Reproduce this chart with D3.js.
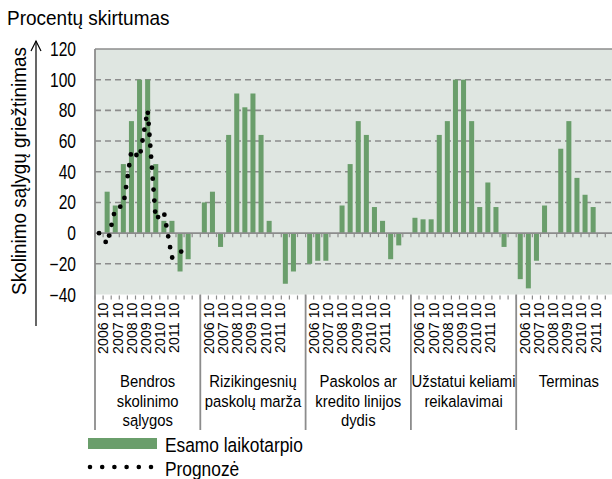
<!DOCTYPE html>
<html>
<head>
<meta charset="utf-8">
<script src="https://cdn.jsdelivr.net/npm/d3@7"></script>
<style>
  body { margin: 0; background: #fff; }
  text { font-family: "Liberation Sans", Arial, sans-serif; fill: #000; }
</style>
</head>
<body>
<script>
const width = 612, height = 479
const margin = {top: 49, left: 95, bottom: 294.5}
const groupWidth = 105.3

// groups on the category axis (line breaks as in the picture)
const groups = [
    ["Bendros", "skolinimo", "sąlygos"],
    ["Rizikingesnių", "paskolų marža"],
    ["Paskolos ar", "kredito linijos", "dydis"],
    ["Užstatui keliami", "reikalavimai"],
    ["Terminas"]
]
// survey periods, plus one empty slot between groups
const periods = ["2006 04", "2006 10", "2007 04", "2007 10", "2008 04", "2008 10",
    "2009 04", "2009 10", "2010 04", "2010 10", "2011 04", "2011 10", "gap"]
const yearLabels = ["2006 10", "2007 10", "2008 10", "2009 10", "2010 10", "2011 10"]

// Esamo laikotarpio (bars), one array per group
const bendros   = [0, 27, 18, 45, 73, 100, 100, 45, 8, 8, -25, -17]
const rizik     = [20, 27, -9, 64, 91, 82, 91, 64, 8, 0, -33, -25]
const paskolos  = [-20, -18, -18, 0, 18, 45, 73, 64, 17, 8, -17, -8]
const uzstatai  = [10, 9, 9, 64, 73, 100, 100, 73, 17, 33, 17, -9]
const terminas  = [-30, -36, -18, 18, 0, 55, 73, 36, 25, 17, 0, 0]
const barSeries = [bendros, rizik, paskolos, uzstatai, terminas]

// Prognozė (dotted line), only for the first group
const prognoze = [0, -7, 16, 18, 54, 49, 80, 9, 14, -16, -12, -12]

const yTicks = [-40, -20, 0, 20, 40, 60, 80, 100, 120]

const barColor = "#6a9e6b"
const gridColor = "#8c8c8c"

// narrow text: move, optionally rotate, squeeze along the text
const tf = (x, y, sx, rot) => `translate(${x},${y})` + (rot ? ` rotate(${rot})` : "") + ` scale(${sx},1)`

const svg = d3.select("body").append("svg")
    .attr("width", width)
    .attr("height", height)

const groupKeys = groups.map(g => g.join(" "))
const x0 = d3.scaleBand().domain(groupKeys)
    .range([margin.left, margin.left + groupWidth * groups.length])
const x1 = d3.scaleBand().domain(periods).range([0, groupWidth]).paddingInner(0.38).paddingOuter(0.19)
const y = d3.scaleLinear().domain([-40, 120]).range([margin.bottom, margin.top])
const labelX = d3.scalePoint().domain(yearLabels).range([8, 79])

// plot background
svg.append("rect")
    .attr("x", margin.left).attr("y", y(120))
    .attr("width", width - margin.left).attr("height", y(-40) - y(120))
    .attr("fill", "#dfe6e1")

// dashed grid
svg.append("g").selectAll("line")
    .data(yTicks.filter(d => d !== 0 && d !== 120 && d !== -40))
    .join("line")
    .attr("x1", margin.left).attr("x2", width)
    .attr("y1", d => y(d)).attr("y2", d => y(d))
    .attr("stroke", gridColor).attr("stroke-width", 1.6)
    .attr("stroke-dasharray", "6,4")

// top border
svg.append("line")
    .attr("x1", margin.left).attr("x2", width)
    .attr("y1", y(120)).attr("y2", y(120))
    .attr("stroke", gridColor).attr("stroke-width", 1.6)

// bars
const gGroups = svg.append("g").selectAll("g")
    .data(barSeries)
    .join("g")
    .attr("transform", (d, i) => `translate(${x0(groupKeys[i])},0)`)

gGroups.selectAll("rect")
    .data(d => d.map((v, i) => ({v, p: periods[i]})).filter(d => d.v))
    .join("rect")
    .attr("x", d => x1(d.p))
    .attr("width", x1.bandwidth())
    .attr("y", d => y(Math.max(0, d.v)))
    .attr("height", d => Math.abs(y(d.v) - y(0)))
    .attr("fill", barColor)

// zero axis with ticks
svg.append("line")
    .attr("x1", margin.left).attr("x2", width)
    .attr("y1", y(0)).attr("y2", y(0))
    .attr("stroke", gridColor).attr("stroke-width", 1.6)

const tickPos = []
groupKeys.forEach(g => periods.forEach(p => tickPos.push(x0(g) + x1(p) - x1.step() * x1.paddingInner() / 2)))

svg.append("g").selectAll("line")
    .data(tickPos)
    .join("line")
    .attr("x1", d => d).attr("x2", d => d)
    .attr("y1", y(0)).attr("y2", y(0) + 4)
    .attr("stroke", gridColor).attr("stroke-width", 1.2)

svg.append("g").selectAll("line")
    .data(tickPos)
    .join("line")
    .attr("x1", d => d).attr("x2", d => d)
    .attr("y1", y(-40) + 1).attr("y2", y(-40) + 5)
    .attr("stroke", gridColor).attr("stroke-width", 1.2)

// forecast line
const line = d3.line()
    .x((d, i) => x0(groupKeys[0]) + x1(periods[i]) + x1.bandwidth() / 2)
    .y(d => y(d))

svg.append("path")
    .datum(prognoze)
    .attr("d", line)
    .attr("fill", "none")
    .attr("stroke", "#000")
    .attr("stroke-width", 4.8)
    .attr("stroke-linecap", "round")
    .attr("stroke-dasharray", "0,11")

// left axis line and group separators
svg.append("line")
    .attr("x1", margin.left).attr("x2", margin.left)
    .attr("y1", y(120)).attr("y2", 430)
    .attr("stroke", gridColor).attr("stroke-width", 1.8)

svg.append("g").selectAll("line")
    .data(groupKeys.slice(1))
    .join("line")
    .attr("x1", d => x0(d)).attr("x2", d => x0(d))
    .attr("y1", y(-40)).attr("y2", 430)
    .attr("stroke", gridColor).attr("stroke-width", 1.8)

// year labels
const yl = svg.append("g").selectAll("g")
    .data(groupKeys)
    .join("g")
    .attr("transform", d => `translate(${x0(d)},0)`)

yl.selectAll("text")
    .data(yearLabels)
    .join("text")
    .attr("transform", d => tf(labelX(d), 302.5, 0.95, -90))
    .attr("text-anchor", "end")
    .attr("dy", "0.36em")
    .attr("font-size", 15)
    .text(d => d)

// group labels
yl.each(function(d, i) {
    d3.select(this).selectAll(".glabel")
        .data(groups[i])
        .join("text")
        .attr("class", "glabel")
        .attr("transform", (t, j) => tf(x0.bandwidth() / 2, 387 + j * 19.5, 0.9))
        .attr("text-anchor", "middle")
        .attr("font-size", 16.5)
        .text(t => t)
})

// y tick labels
svg.append("g").selectAll("text")
    .data(yTicks)
    .join("text")
    .attr("transform", d => tf(76, y(d), 0.8))
    .attr("dy", "0.36em")
    .attr("text-anchor", "end")
    .attr("font-size", 19.5)
    .text(d => d < 0 ? "\u2212" + Math.abs(d) : d)

// titles
svg.append("text")
    .attr("transform", tf(7, 25, 0.95))
    .attr("font-size", 20)
    .text("Procentų skirtumas")

svg.append("text")
    .attr("transform", tf(19, 171, 0.97, -90))
    .attr("text-anchor", "middle")
    .attr("dy", "0.36em")
    .attr("font-size", 19.5)
    .text("Skolinimo sąlygų griežtinimas")

// arrow
svg.append("line")
    .attr("x1", 36).attr("x2", 36).attr("y1", 41).attr("y2", 326)
    .attr("stroke", "#000").attr("stroke-width", 1.2)
svg.append("path")
    .attr("d", "M31,51L36,41L41,51")
    .attr("fill", "none").attr("stroke", "#000").attr("stroke-width", 1.2)

// legend
const legend = svg.append("g")
legend.append("rect")
    .attr("x", 88).attr("y", 438).attr("width", 69).attr("height", 11)
    .attr("fill", barColor)
legend.append("text")
    .attr("transform", tf(165, 452, 0.89))
    .attr("font-size", 19.5)
    .text("Esamo laikotarpio")
legend.append("line")
    .attr("x1", 90).attr("x2", 152).attr("y1", 467).attr("y2", 467)
    .attr("stroke", "#000").attr("stroke-width", 4.6)
    .attr("stroke-linecap", "round")
    .attr("stroke-dasharray", "0,12.2")
legend.append("text")
    .attr("transform", tf(165, 476, 0.89))
    .attr("font-size", 19.5)
    .text("Prognozė")
</script>
</body>
</html>
